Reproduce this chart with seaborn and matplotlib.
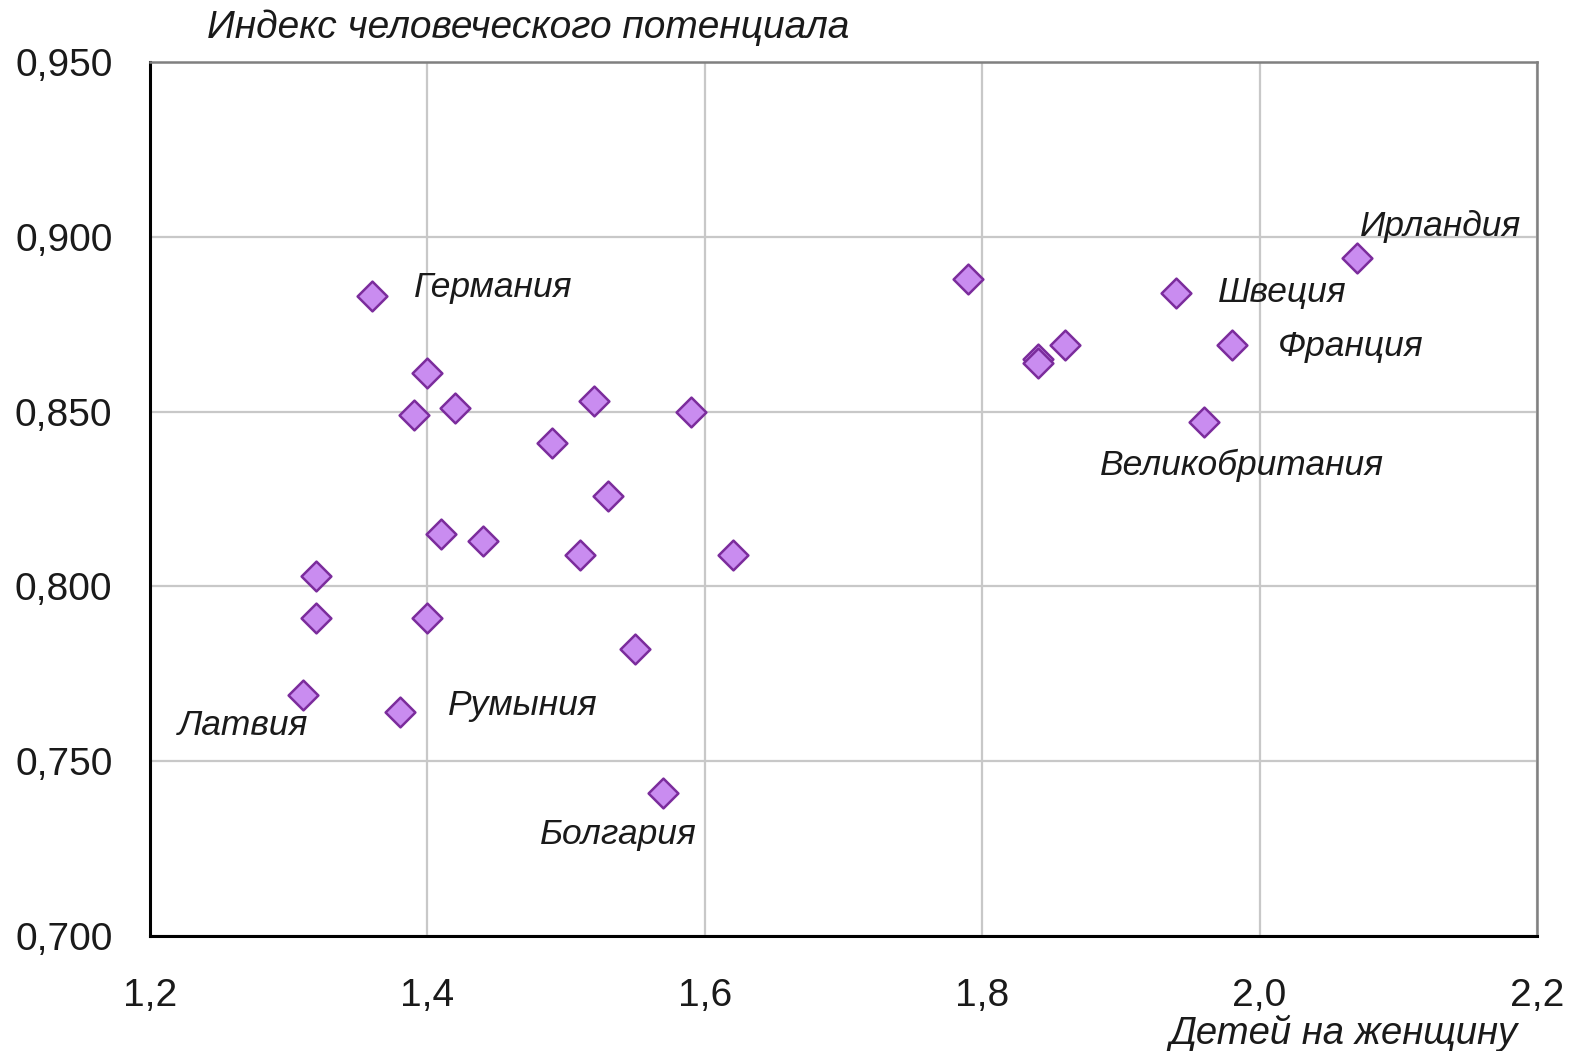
import numpy as np
import pandas as pd
import seaborn as sns
import matplotlib.pyplot as plt

# данные: рождаемость и индекс человеческого потенциала
births = [1.36, 1.40, 1.39, 1.42, 1.52, 1.59, 1.49, 1.53, 1.41, 1.44, 1.51, 1.62,
          1.32, 1.32, 1.40, 1.55, 1.31, 1.38, 1.57,
          1.79, 1.84, 1.84, 1.86, 1.94, 1.98, 1.96, 2.07]
hdi = [0.883, 0.861, 0.849, 0.851, 0.853, 0.850, 0.841, 0.826, 0.815, 0.813, 0.809, 0.809,
       0.803, 0.791, 0.791, 0.782, 0.769, 0.764, 0.741,
       0.888, 0.865, 0.864, 0.869, 0.884, 0.869, 0.847, 0.894]

label_names = ['Германия', 'Ирландия', 'Швеция', 'Франция', 'Великобритания',
               'Латвия', 'Румыния', 'Болгария']
label_x = [1.390, 2.072, 1.970, 2.013, 1.885, 1.220, 1.415, 1.481]
label_y = [0.8856, 0.903, 0.884, 0.8685, 0.8347, 0.7603, 0.766, 0.729]

x_ticks = [1.2, 1.4, 1.6, 1.8, 2.0, 2.2]
y_ticks = [0.700, 0.750, 0.800, 0.850, 0.900, 0.950]

df = pd.DataFrame({'births': births, 'hdi': hdi})

sns.set_style('white')
plt.rcParams['font.family'] = ['Liberation Sans', 'DejaVu Sans']

fig = plt.figure(figsize=(15.69, 10.51), dpi=100)
ax = fig.add_axes([150 / 1569, 1 - 936 / 1051, 1387 / 1569, 874 / 1051])

sns.scatterplot(data=df, x='births', y='hdi', ax=ax, marker='D', s=230,
                color='#c98cf0', edgecolor='#7b2c9c', linewidth=1.8, zorder=3)

ax.set_xlim(1.2, 2.2)
ax.set_ylim(0.700, 0.950)
ax.set_xticks(x_ticks)
ax.set_yticks(y_ticks)
ax.set_xticklabels([f'{v:.1f}'.replace('.', ',') for v in x_ticks], fontsize=28,
                   color='#1a1a1a')
ax.set_yticklabels([f'{v:.3f}'.replace('.', ',') for v in y_ticks], fontsize=28,
                   color='#1a1a1a')
ax.tick_params(axis='x', pad=30, length=0)
ax.tick_params(axis='y', pad=27, length=0)
ax.grid(True, color='#c8c8c8', linewidth=1.6)
ax.set_axisbelow(True)
ax.set_xlabel('')
ax.set_ylabel('')

for side in ['left', 'bottom']:
    ax.spines[side].set_color('black')
    ax.spines[side].set_linewidth(2.2)
for side in ['top', 'right']:
    ax.spines[side].set_color('#808080')
    ax.spines[side].set_linewidth(1.8)

for name, lx, ly in zip(label_names, label_x, label_y):
    ax.text(lx, ly, name, fontsize=25.5, style='italic', color='#1a1a1a',
            va='center', ha='left')

fig.text(207 / 1569, 1 - 28 / 1051, 'Индекс человеческого потенциала', fontsize=28,
         style='italic', color='#1a1a1a', va='center', ha='left')
fig.text(1518 / 1569, 1 - 1033 / 1051, 'Детей на женщину', fontsize=27.5,
         style='italic', color='#1a1a1a', va='center', ha='right')

fig.savefig('out.png', dpi=100, facecolor='white')
